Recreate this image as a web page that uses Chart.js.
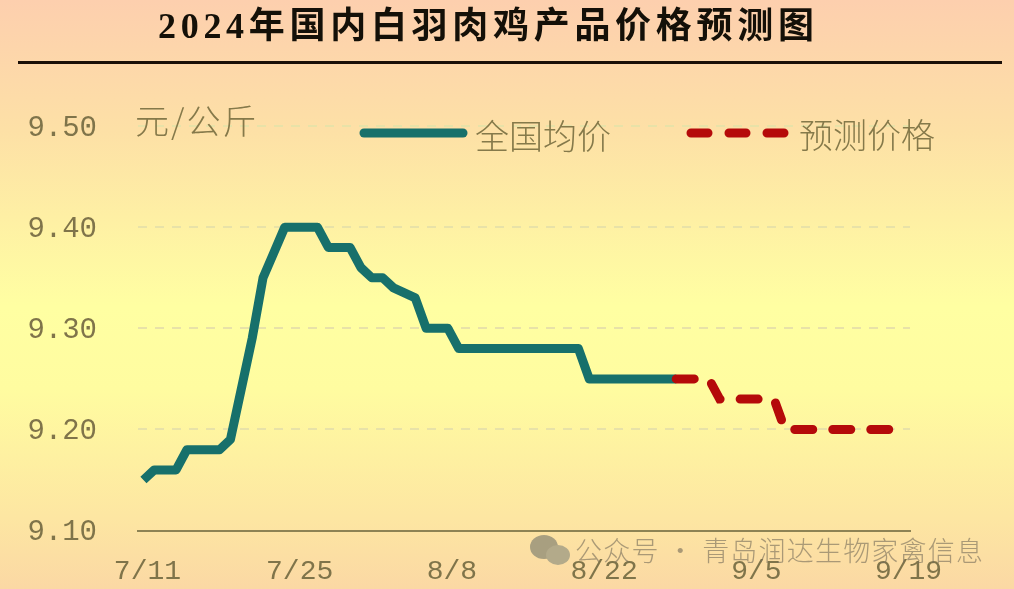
<!DOCTYPE html>
<html lang="zh">
<head>
<meta charset="utf-8">
<title>2024年国内白羽肉鸡产品价格预测图</title>
<script src="https://cdn.jsdelivr.net/npm/chart.js@4/dist/chart.umd.js"></script>
<style>
    html, body { margin: 0; padding: 0; }
    body {
        width: 1014px; height: 589px; overflow: hidden; position: relative;
        background: linear-gradient(180deg, #fdcfae 0%, #fde0a6 22%, #ffffa2 52%, #fffca0 66%, #fde6a2 88%, #fbd8a4 100%);
        font-family: "Noto Sans CJK SC", sans-serif;
    }
    canvas { position: absolute; left: 0; top: 0; }
    .txt { position: absolute; white-space: nowrap; line-height: 1; }
    #title {
        left: 158px; top: 8px; font-size: 36px; letter-spacing: 4.7px; color: #141008; font-weight: 700;
        font-family: "Liberation Serif", "Noto Sans CJK SC", serif;
    }
    #rule { position: absolute; left: 18px; top: 61px; width: 984px; height: 3px; background: #1a0f08; }
    #unit { left: 135px; top: 103px; font-size: 34px; letter-spacing: 2px; color: #85794a; font-weight: 300; }
    .legend-text { font-size: 34px; color: #85794a; font-weight: 300; }
    #mark { left: 575px; top: 536px; font-size: 27px; color: rgba(120, 110, 90, 0.62); font-weight: 300; letter-spacing: 1.2px; }
    #wechat { position: absolute; left: 529px; top: 533px; }
    #legend-line { position: absolute; left: 0; top: 0; }
</style>
</head>
<body>
<canvas id="priceChart" width="1014" height="589"></canvas>
<svg id="legend-line" width="1014" height="200">
    <line x1="364" y1="133" x2="463" y2="133" stroke="#17706b" stroke-width="9" stroke-linecap="round"/>
    <line x1="691" y1="133" x2="785" y2="133" stroke="#b50a0a" stroke-width="9" stroke-linecap="round" stroke-dasharray="17 21"/>
</svg>
<div id="title" class="txt">2024年国内白羽肉鸡产品价格预测图</div>
<div id="rule"></div>
<div id="unit" class="txt">元/公斤</div>
<div class="txt legend-text" style="left:475px;top:118px">全国均价</div>
<div class="txt legend-text" style="left:799px;top:117px">预测价格</div>
<svg id="wechat" width="44" height="36">
    <ellipse cx="15" cy="14" rx="14" ry="12" fill="#a89f80"/>
    <ellipse cx="29" cy="22" rx="12" ry="10" fill="#b3aa8a"/>
</svg>
<div id="mark" class="txt">公众号 · 青岛润达生物家禽信息</div>

<script>
'use strict';

// 日期标签 7/11 ~ 9/19,每天一个
const categories = [
    '7/11', '7/12', '7/13', '7/14', '7/15', '7/16', '7/17', '7/18', '7/19', '7/20',
    '7/21', '7/22', '7/23', '7/24', '7/25', '7/26', '7/27', '7/28', '7/29', '7/30',
    '7/31', '8/1', '8/2', '8/3', '8/4', '8/5', '8/6', '8/7', '8/8', '8/9',
    '8/10', '8/11', '8/12', '8/13', '8/14', '8/15', '8/16', '8/17', '8/18', '8/19',
    '8/20', '8/21', '8/22', '8/23', '8/24', '8/25', '8/26', '8/27', '8/28', '8/29',
    '8/30', '8/31', '9/1', '9/2', '9/3', '9/4', '9/5', '9/6', '9/7', '9/8',
    '9/9', '9/10', '9/11', '9/12', '9/13', '9/14', '9/15', '9/16', '9/17', '9/18', '9/19'
];

// 全国均价
const actualPrices = [
    9.15, 9.16, 9.16, 9.16, 9.18, 9.18, 9.18, 9.18, 9.19, 9.24,
    9.29, 9.35, 9.375, 9.40, 9.40, 9.40, 9.40, 9.38, 9.38, 9.38,
    9.36, 9.35, 9.35, 9.34, 9.335, 9.33, 9.30, 9.30, 9.30, 9.28,
    9.28, 9.28, 9.28, 9.28, 9.28, 9.28, 9.28, 9.28, 9.28, 9.28,
    9.28, 9.25, 9.25, 9.25, 9.25, 9.25, 9.25, 9.25, 9.25, 9.25
];

// 预测价格,从 8/29 接上
const forecastPrices = [
    null, null, null, null, null, null, null, null, null, null,
    null, null, null, null, null, null, null, null, null, null,
    null, null, null, null, null, null, null, null, null, null,
    null, null, null, null, null, null, null, null, null, null,
    null, null, null, null, null, null, null, null, null, 9.25,
    9.25, 9.25, 9.25, 9.23, 9.23, 9.23, 9.23, 9.23, 9.23, 9.20,
    9.20, 9.20, 9.20, 9.20, 9.20, 9.20, 9.20, 9.20, 9.20, 9.20
];

const xTickLabels = ['7/11', '7/25', '8/8', '8/22', '9/5', '9/19'];
const yTicks = [9.1, 9.2, 9.3, 9.4, 9.5];

new Chart(document.getElementById('priceChart').getContext('2d'), {
    type: 'line',
    data: {
        labels: categories,
        datasets: [
            {
                label: '预测价格',
                data: forecastPrices,
                borderColor: '#b50a0a',
                borderWidth: 9,
                borderCapStyle: 'round',
                borderDash: [18, 20],
                pointRadius: 0,
                tension: 0,
                order: 1
            },
            {
                label: '全国均价',
                data: actualPrices,
                borderColor: '#17706b',
                borderWidth: 9,
                borderJoinStyle: 'round',
                pointRadius: 0,
                tension: 0,
                order: 2
            }
        ]
    },
    options: {
        responsive: false,
        animation: false,
        devicePixelRatio: 1,
        layout: { padding: { top: 126, right: 104, left: 0, bottom: 0 } },
        plugins: { legend: { display: false }, tooltip: { enabled: false } },
        scales: {
            x: {
                offset: true,
                grid: { display: false },
                border: { color: '#8d8354', width: 2 },
                afterFit: (axis) => { axis.height = 58; },
                ticks: {
                    autoSkip: false,
                    maxRotation: 0,
                    padding: 16,
                    labelOffset: 4,
                    color: '#7f744a',
                    font: { family: '"Liberation Mono", monospace', size: 28 },
                    callback(value) {
                        const label = this.getLabelForValue(value);
                        return xTickLabels.includes(label) ? label : '';
                    }
                }
            },
            y: {
                min: 9.1,
                max: 9.5,
                afterFit: (axis) => { axis.width = 138; },
                afterBuildTicks: (axis) => { axis.ticks = yTicks.map(v => ({ value: v })); },
                border: { display: false, dash: [9, 8] },
                grid: {
                    color: '#e8e2a8',
                    lineWidth: 2,
                    drawTicks: false
                },
                ticks: {
                    padding: 41,
                    labelOffset: 2,
                    color: '#7f744a',
                    font: { family: '"Liberation Mono", monospace', size: 29 },
                    callback: (value) => Number(value).toFixed(2)
                }
            }
        }
    }
});
</script>
</body>
</html>
